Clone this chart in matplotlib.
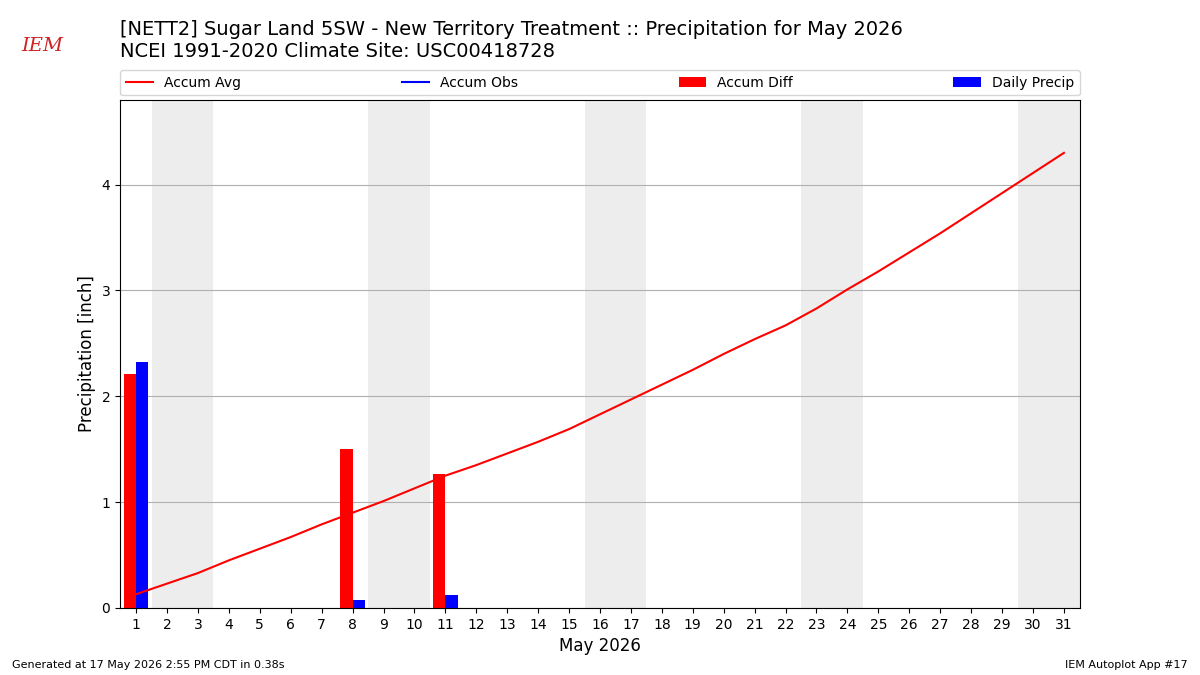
import matplotlib
matplotlib.use("Agg")
import matplotlib.pyplot as plt

days = list(range(1, 32))
accum_avg = [0.13, 0.23, 0.33, 0.45, 0.56, 0.67, 0.79, 0.90, 1.01, 1.13, 1.25, 1.35, 1.46, 1.57,
             1.69, 1.83, 1.97, 2.11, 2.25, 2.40, 2.54, 2.67, 2.83, 3.01, 3.18, 3.36, 3.54, 3.73,
             3.92, 4.11, 4.30]
diff_days = [1, 8, 11]
accum_diff = [2.21, 1.50, 1.27]
precip_days = [1, 8, 11]
daily_precip = [2.32, 0.08, 0.12]
weekends = [(1.5, 3.5), (8.5, 10.5), (15.5, 17.5), (22.5, 24.5), (29.5, 31.6)]

fig = plt.figure(figsize=(12, 6.75), dpi=100)
ax = fig.add_axes([0.1, 0.0993, 0.8, 0.7526])
for a, b in weekends:
    ax.axvspan(a, b, color="#ededed", zorder=0, lw=0)
ax.plot(days, accum_avg, color="red", label="Accum Avg", zorder=3)
ax.plot([], [], color="blue", label="Accum Obs")
ax.bar([d - 0.2 for d in diff_days], accum_diff, width=0.4, color="red", label="Accum Diff", zorder=2)
ax.bar([d + 0.2 for d in precip_days], daily_precip, width=0.4, color="blue", label="Daily Precip", zorder=2)
ax.set_xlim(0.48, 31.52)
ax.set_ylim(0, 4.8)
ax.set_xticks(days)
ax.set_yticks([0, 1, 2, 3, 4])
ax.grid(axis="y", color="#b0b0b0")
ax.set_axisbelow(True)
ax.set_xlabel("May 2026", fontsize=12)
ax.set_ylabel("Precipitation [inch]", fontsize=12)
ax.legend(loc="lower left", bbox_to_anchor=(0, 1.009, 1, 0.05), ncol=4, mode="expand",
          borderaxespad=0, fontsize=10)
fig.text(0.1, 0.94, "[NETT2] Sugar Land 5SW - New Territory Treatment :: Precipitation for May 2026\nNCEI 1991-2020 Climate Site: USC00418728",
         fontsize=14, va="center", ha="left")
fig.text(0.018, 0.925, "IEM", color="#cc2222", fontsize=14, family="DejaVu Serif", style="italic")
fig.text(0.01, 0.01, "Generated at 17 May 2026 2:55 PM CDT in 0.38s", fontsize=8)
fig.text(0.99, 0.01, "IEM Autoplot App #17", fontsize=8, ha="right")
fig.savefig("out.png", dpi=100)
